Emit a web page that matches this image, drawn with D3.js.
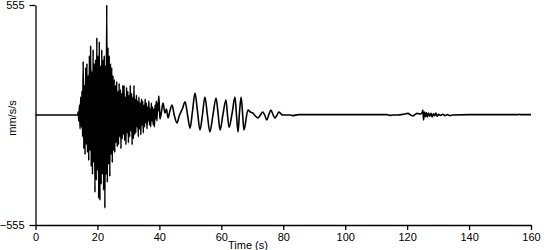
<!DOCTYPE html>
<html>
<head>
<meta charset="utf-8">
<script src="https://cdn.jsdelivr.net/npm/d3@7"></script>
<style>
  body { margin: 0; background: #fff; }
  svg { display: block; }
</style>
</head>
<body>
<svg class="vis" width="550" height="250"></svg>
<script>
// seismogram: acceleration trace, mm/s/s over time

// quiet part before the first arrival
var preTimes = [0, 13.2];
var preValues = [0, 0];

// main burst, sampled every 0.2 s from 13.4 s
var burstStart = 13.4;
var burstStep = 0.2;
var burstValues = [
    0, 0, 15, -30, 50, -70, 90, -60, 120, -110,
    270, -170, 150, -200, 240, -150, 260, -190, 200, -230,
    300, -180, 350, -260, 220, -300, 330, -240, 260, -390,
    280, -330, 390, -280, 300, -420, 370, -430, 250, -350,
    330, -300, 280, -380, 300, -470, 250, -300, 555, -340,
    340, -250, 300, -310, 260, -200, 240, -240, 200, -180,
    180, -190, 150, -140, 170, -160, 120, -150, 160, -110,
    130, -170, 110, -120, 150, -100, 150, -130, 90, -150,
    140, -90, 120, -140, 100, -110, 150, -80, 110, -150,
    90, -120, 150, -100, 80, -90, 100, -60, 70, -110,
    90, -70, 60, -100, 80, -50, 70, -90, 50, -60,
    80, -40, 60, -70, 40, -30, 70, -50, 30, -60,
    60, -30, 40, -50, 30, -60, 50, -20, 70, -30,
    60, 20, 96, 40, -20
];

// surface waves and coda
var codaTimes = [
    40.6, 41.2, 41.8, 42.3, 42.8, 43.4, 44.1, 44.8, 45.7, 46.3,
    46.8, 47.4, 48.3, 49.1, 49.9, 50.7, 51.5, 52.3, 53.1, 53.9,
    54.7, 55.5, 56.3, 57.3, 58.3, 59.0, 59.6, 60.5, 61.5, 62.0,
    62.5, 63.5, 64.4, 64.9, 65.4, 65.9, 66.4, 66.9, 67.3, 68.6,
    69.4, 70.2, 71.0, 71.8, 72.6, 73.4, 74.0, 74.7, 75.3, 76.0,
    76.6, 77.3, 78.0, 78.6, 79.3, 79.9, 82.2, 83, 85, 90,
    100, 113.5, 114.5, 115.4, 117, 118.5, 120.3, 121.2, 121.9, 122.6,
    123.2, 124.2, 124.8, 125.1, 125.3, 125.6, 125.9, 126.2, 126.5, 126.9,
    127.3, 127.7, 128.1, 128.5, 128.9, 129.3, 129.7, 130.2, 130.8, 131.5,
    132.2, 133, 133.8, 134.8, 140, 150, 155.8, 156.2, 156.6, 160
];
var codaValues = [
    10, 60, 10, 30, -15, 20, 50, 0, -40, -10,
    10, 30, 66, 0, -66, 20, 111, 20, -76, 0,
    91, 0, -86, 0, 86, 0, -76, 0, 76, 0,
    -61, 10, 91, 0, -86, 20, 91, 0, -76, 25,
    15, 10, -5, -15, 0, 15, 0, -25, 0, 25,
    5, -15, 0, 15, 5, 0, 0, -3, 2, 2,
    2, 2, -2, 0, 0, 3, 8, 0, -5, 3,
    8, 5, 10, 25, -25, 15, -8, 12, -10, 10,
    -6, 8, -10, 6, -4, 10, -6, 3, -2, 4,
    -3, 2, -3, 0, 2, 2, 2, 3, 2, 2
];

var xTicks = [0, 20, 40, 60, 80, 100, 120, 140, 160];
var yTicks = [-555, 555];

var points = [];
preTimes.forEach(function (t, i) { points.push([t, preValues[i]]); });
burstValues.forEach(function (v, i) { points.push([burstStart + i * burstStep, v]); });
codaTimes.forEach(function (t, i) { points.push([t, codaValues[i]]); });

var svg = d3.select(".vis");
var fontFamily = "'Liberation Sans', Arial, sans-serif";

var x = d3.scaleLinear().domain([0, 160]).range([35.5, 531]);
var y = d3.scaleLinear().domain([-555, 555]).range([225, 5]);

var line = d3.line()
    .curve(d3.curveMonotoneX)
    .x(function (d) { return x(d[0]); })
    .y(function (d) { return y(d[1]); });

svg.append("path")
    .datum(points)
    .attr("d", line)
    .attr("fill", "none")
    .attr("stroke", "#000")
    .attr("stroke-width", 1.6)
    .attr("stroke-linejoin", "miter");

// axes
var xAxis = svg.append("g")
    .attr("transform", "translate(0,225)")
    .call(d3.axisBottom(x).tickValues(xTicks).tickSize(5).tickSizeOuter(0).tickPadding(3));

var yAxis = svg.append("g")
    .attr("transform", "translate(35.5,0)")
    .call(d3.axisLeft(y).tickValues(yTicks).tickSize(6).tickSizeOuter(0).tickPadding(5));

[xAxis, yAxis].forEach(function (g) {
    g.selectAll("path, line").attr("stroke", "#000").attr("stroke-width", 1.3);
    g.selectAll("text")
        .attr("fill", "#000")
        .attr("font-family", fontFamily)
        .attr("font-size", "11px");
});

// axis title sits a bit left of the axis centre, as in the original
svg.append("text")
    .attr("x", 248)
    .attr("y", 249)
    .attr("text-anchor", "middle")
    .attr("font-family", fontFamily)
    .attr("font-size", "11px")
    .attr("fill", "#000")
    .text("Time (s)");

svg.append("text")
    .attr("transform", "translate(16,118) rotate(-90)")
    .attr("text-anchor", "middle")
    .attr("font-family", fontFamily)
    .attr("font-size", "11px")
    .attr("fill", "#000")
    .text("mm/s/s");
</script>
</body>
</html>
